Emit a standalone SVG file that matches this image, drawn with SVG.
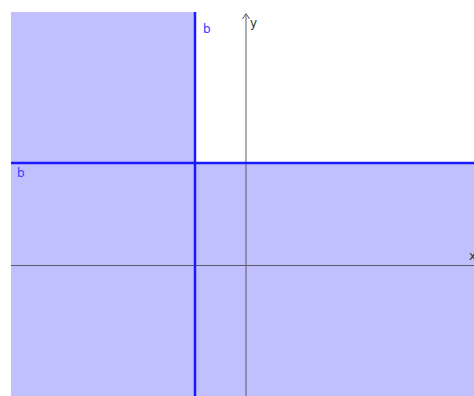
<svg xmlns="http://www.w3.org/2000/svg" width="474" height="396" viewBox="0 0 474 396">
<style>
.lbl{font-family:"DejaVu Sans","Liberation Sans",sans-serif;font-size:12px}
.b{fill:#3a3aff}
.ax{stroke:#5a5a6a;stroke-width:1;fill:none}
.bl{stroke:#1a1aff;stroke-width:2.5;fill:none}
</style>
<rect width="474" height="396" fill="#ffffff"/>
<g id="region">
<polygon points="11,12 195,12 195,163 474,163 474,396 11,396" fill="#c0c0ff"/>
</g>
<g id="axes">
<line class="ax" x1="11" y1="265.5" x2="474" y2="265.5"/>
<line class="ax" x1="246" y1="14" x2="246" y2="396"/>
<path class="ax" d="M242.5,19 L246,13.5 L249.5,19"/>
<text class="lbl" x="250" y="27" fill="#333">y</text>
<text class="lbl" x="469" y="260" fill="#333">x</text>
</g>
<g id="lines">
<line class="bl" x1="195" y1="12" x2="195" y2="396"/>
<line class="bl" x1="11" y1="163" x2="474" y2="163"/>
<text class="lbl b" x="203" y="33">b</text>
<text class="lbl b" x="17" y="177">b</text>
</g>
</svg>
